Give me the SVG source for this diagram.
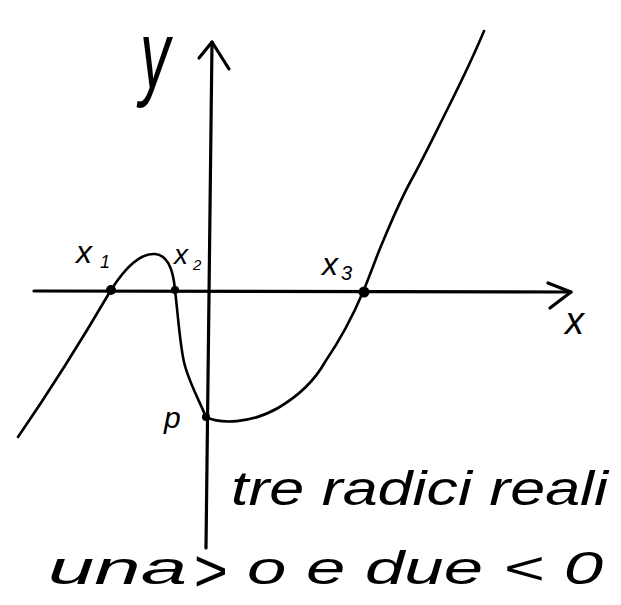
<svg xmlns="http://www.w3.org/2000/svg" width="621" height="605" viewBox="0 0 621 605">
<style>
.ax{fill:none;stroke:#000;stroke-width:3.2;stroke-linecap:round;stroke-linejoin:round}
.cv{fill:none;stroke:#000;stroke-width:2.6;stroke-linecap:round;stroke-linejoin:round}
.lbl{font-family:"Liberation Sans",Arial,sans-serif;fill:#000;font-style:italic}
.txt{font-family:"Liberation Sans",Arial,sans-serif;fill:#000;font-style:italic}
.dot{fill:#000}
</style>
<rect width="621" height="605" fill="#fff"/>
<g id="axes">
  <path class="ax" d="M34,291 L571,292"/>
  <path class="ax" d="M548,283 L571,292 L550,308"/>
  <path class="ax" d="M212,42 L206,548"/>
  <path class="ax" d="M199,58 L212,42 L229,69"/>
</g>
<g id="curve">
  <path class="cv" d="M18,437 C40,405 70,360 111,290 C125,268 140,253 155,254 C166,255 173,266 175,290 C178,315 180,345 184,362 C188,380 198,398 206,417"/>
  <path class="cv" d="M206,417 C220,424 250,424 278,408 C300,395 315,380 325,362 C340,340 352,318 363,292 C372,270 376,258 381,246 C392,220 400,200 413,177 C425,155 437,130 448,108 C462,80 474,55 484,31"/>
</g>
<g id="points">
  <circle class="dot" cx="111" cy="290" r="5"/>
  <circle class="dot" cx="175" cy="290" r="4"/>
  <circle class="dot" cx="364" cy="292" r="5.5"/>
  <circle class="dot" cx="206" cy="417" r="4"/>
</g>
<g id="labels">
  <text class="lbl" font-size="60" transform="matrix(1,0,0,1.6,140,88)">y</text>
  <text class="lbl" x="565" y="334" font-size="38">x</text>
  <text class="lbl" x="76" y="263" font-size="32">x</text>
  <text class="lbl" x="100" y="268" font-size="18">1</text>
  <text class="lbl" x="174" y="264" font-size="28">x</text>
  <text class="lbl" x="193" y="270" font-size="15">2</text>
  <text class="lbl" x="322" y="275" font-size="32">x</text>
  <text class="lbl" x="341" y="280" font-size="20">3</text>
  <text class="lbl" x="164" y="428" font-size="30">p</text>
</g>
<g id="text">
  <text class="txt" x="231" y="505" font-size="48" textLength="377" lengthAdjust="spacingAndGlyphs">tre radici reali</text>
  <text class="txt" x="48" y="584" font-size="46" textLength="139" lengthAdjust="spacingAndGlyphs">una</text>
  <text class="txt" x="193" y="591" font-size="60" textLength="34" lengthAdjust="spacingAndGlyphs">&gt;</text>
  <text class="txt" x="247" y="584" font-size="46" textLength="356" lengthAdjust="spacingAndGlyphs">o  e due &lt; 0</text>
</g>
</svg>
